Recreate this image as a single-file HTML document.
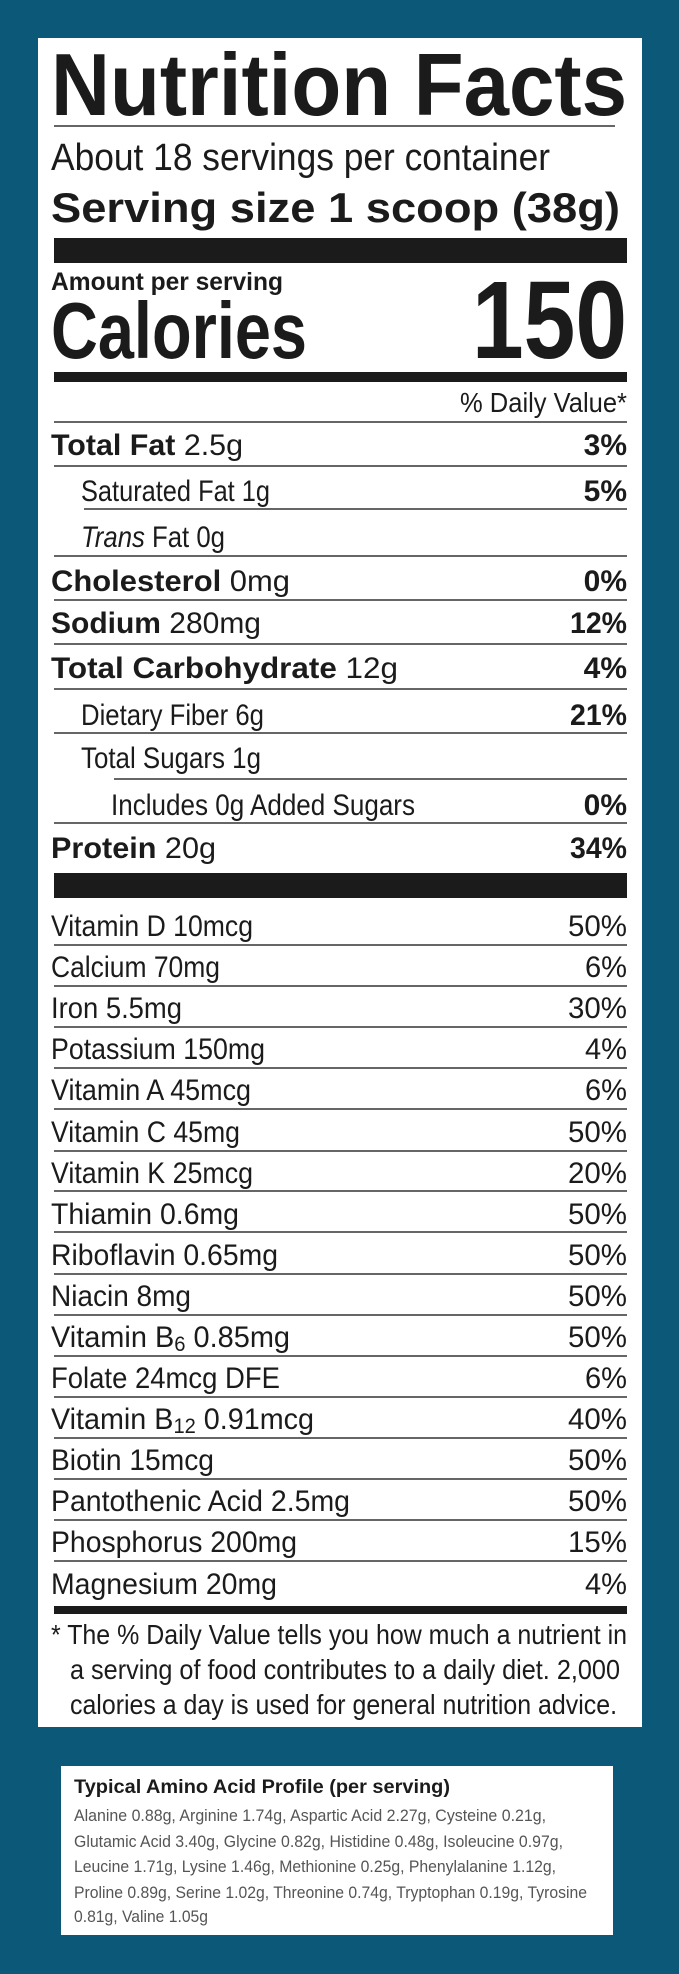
<!DOCTYPE html>
<html><head><meta charset="utf-8"><style>
html,body{margin:0;padding:0;background:#0b5878}
svg{display:block}
text{font-family:"Liberation Sans",Arial,sans-serif;fill:#1b1b1b}
.b{font-weight:bold}
</style></head><body>
<svg width="679" height="1974" viewBox="0 0 679 1974" xmlns="http://www.w3.org/2000/svg">
<rect x="0" y="0" width="679" height="1974" fill="#0b5878"/>
<rect x="38" y="38" width="604" height="1689" fill="#fff"/>
<text x="51" y="115" class="b" font-size="88" textLength="576" lengthAdjust="spacingAndGlyphs">Nutrition Facts</text>
<rect x="54" y="125" width="561" height="2" fill="#666"/>
<text x="51" y="170" font-size="38" textLength="499" lengthAdjust="spacingAndGlyphs">About 18 servings per container</text>
<text x="51" y="222" class="b" font-size="42" textLength="569" lengthAdjust="spacingAndGlyphs">Serving size  1 scoop (38g)</text>
<rect x="54" y="238" width="573" height="25" fill="#1b1b1b"/>
<text x="51" y="290" class="b" font-size="25" textLength="232" lengthAdjust="spacingAndGlyphs">Amount per serving</text>
<text x="51" y="358" class="b" font-size="80" textLength="256" lengthAdjust="spacingAndGlyphs">Calories</text>
<text x="472" y="358" class="b" font-size="110" textLength="155" lengthAdjust="spacingAndGlyphs">150</text>
<rect x="54" y="372" width="573" height="10" fill="#1b1b1b"/>
<text x="460" y="412" font-size="28" textLength="167" lengthAdjust="spacingAndGlyphs">% Daily Value*</text>
<rect x="54" y="421" width="573" height="2" fill="#666"/>

<g>
<text x="51" y="455" font-size="30" textLength="192" lengthAdjust="spacingAndGlyphs"><tspan class="b">Total Fat</tspan> 2.5g</text>
<text x="627" y="455" font-size="30" class="b" text-anchor="end">3%</text>
<rect x="54" y="465" width="573" height="2" fill="#666"/>
<text x="81" y="501" font-size="30" textLength="189" lengthAdjust="spacingAndGlyphs">Saturated Fat 1g</text>
<text x="627" y="501" font-size="30" class="b" text-anchor="end">5%</text>
<rect x="84" y="508" width="543" height="2" fill="#666"/>
<text x="81" y="547" font-size="30" textLength="144" lengthAdjust="spacingAndGlyphs"><tspan font-style="italic">Trans</tspan> Fat 0g</text>
<rect x="54" y="555" width="573" height="2" fill="#666"/>
<text x="51" y="591" font-size="30" textLength="239" lengthAdjust="spacingAndGlyphs"><tspan class="b">Cholesterol</tspan> 0mg</text>
<text x="627" y="591" font-size="30" class="b" text-anchor="end">0%</text>
<rect x="54" y="599" width="573" height="2" fill="#666"/>
<text x="51" y="633" font-size="30" textLength="210" lengthAdjust="spacingAndGlyphs"><tspan class="b">Sodium</tspan> 280mg</text>
<text x="627" y="633" font-size="30" class="b" text-anchor="end" textLength="57" lengthAdjust="spacingAndGlyphs">12%</text>
<rect x="54" y="643" width="573" height="2" fill="#666"/>
<text x="51" y="678" font-size="30" textLength="347" lengthAdjust="spacingAndGlyphs"><tspan class="b">Total Carbohydrate</tspan> 12g</text>
<text x="627" y="678" font-size="30" class="b" text-anchor="end">4%</text>
<rect x="54" y="688" width="573" height="2" fill="#666"/>
<text x="81" y="725" font-size="30" textLength="183" lengthAdjust="spacingAndGlyphs">Dietary Fiber 6g</text>
<text x="627" y="725" font-size="30" class="b" text-anchor="end" textLength="57" lengthAdjust="spacingAndGlyphs">21%</text>
<rect x="54" y="732" width="573" height="2" fill="#666"/>
<text x="81" y="768" font-size="30" textLength="180" lengthAdjust="spacingAndGlyphs">Total Sugars 1g</text>
<rect x="114" y="778" width="513" height="2" fill="#666"/>
<text x="111" y="815" font-size="30" textLength="304" lengthAdjust="spacingAndGlyphs">Includes 0g Added Sugars</text>
<text x="627" y="815" font-size="30" class="b" text-anchor="end">0%</text>
<rect x="54" y="822" width="573" height="2" fill="#666"/>
<text x="51" y="858" font-size="30" textLength="165" lengthAdjust="spacingAndGlyphs"><tspan class="b">Protein</tspan> 20g</text>
<text x="627" y="858" font-size="30" class="b" text-anchor="end" textLength="57" lengthAdjust="spacingAndGlyphs">34%</text>
</g>
<rect x="54" y="873" width="573" height="25" fill="#1b1b1b"/>

<g font-size="30">
<text x="51" y="936" textLength="202" lengthAdjust="spacingAndGlyphs">Vitamin D 10mcg</text>
<text x="627" y="936" text-anchor="end" textLength="59" lengthAdjust="spacingAndGlyphs">50%</text>
<rect x="54" y="944" width="573" height="2" fill="#666"/>
<text x="51" y="977" textLength="169" lengthAdjust="spacingAndGlyphs">Calcium 70mg</text>
<text x="627" y="977" text-anchor="end" textLength="42" lengthAdjust="spacingAndGlyphs">6%</text>
<rect x="54" y="985" width="573" height="2" fill="#666"/>
<text x="51" y="1018" textLength="131" lengthAdjust="spacingAndGlyphs">Iron 5.5mg</text>
<text x="627" y="1018" text-anchor="end" textLength="59" lengthAdjust="spacingAndGlyphs">30%</text>
<rect x="54" y="1026" width="573" height="2" fill="#666"/>
<text x="51" y="1059" textLength="214" lengthAdjust="spacingAndGlyphs">Potassium 150mg</text>
<text x="627" y="1059" text-anchor="end" textLength="42" lengthAdjust="spacingAndGlyphs">4%</text>
<rect x="54" y="1067" width="573" height="2" fill="#666"/>
<text x="51" y="1100" textLength="200" lengthAdjust="spacingAndGlyphs">Vitamin A 45mcg</text>
<text x="627" y="1100" text-anchor="end" textLength="42" lengthAdjust="spacingAndGlyphs">6%</text>
<rect x="54" y="1108" width="573" height="2" fill="#666"/>
<text x="51" y="1142" textLength="189" lengthAdjust="spacingAndGlyphs">Vitamin C 45mg</text>
<text x="627" y="1142" text-anchor="end" textLength="59" lengthAdjust="spacingAndGlyphs">50%</text>
<rect x="54" y="1150" width="573" height="2" fill="#666"/>
<text x="51" y="1183" textLength="202" lengthAdjust="spacingAndGlyphs">Vitamin K 25mcg</text>
<text x="627" y="1183" text-anchor="end" textLength="59" lengthAdjust="spacingAndGlyphs">20%</text>
<rect x="54" y="1190" width="573" height="2" fill="#666"/>
<text x="51" y="1224" textLength="188" lengthAdjust="spacingAndGlyphs">Thiamin 0.6mg</text>
<text x="627" y="1224" text-anchor="end" textLength="59" lengthAdjust="spacingAndGlyphs">50%</text>
<rect x="54" y="1231" width="573" height="2" fill="#666"/>
<text x="51" y="1265" textLength="227" lengthAdjust="spacingAndGlyphs">Riboflavin 0.65mg</text>
<text x="627" y="1265" text-anchor="end" textLength="59" lengthAdjust="spacingAndGlyphs">50%</text>
<rect x="54" y="1273" width="573" height="2" fill="#666"/>
<text x="51" y="1306" textLength="140" lengthAdjust="spacingAndGlyphs">Niacin 8mg</text>
<text x="627" y="1306" text-anchor="end" textLength="59" lengthAdjust="spacingAndGlyphs">50%</text>
<rect x="54" y="1314" width="573" height="2" fill="#666"/>
<text x="51" y="1347" textLength="239" lengthAdjust="spacingAndGlyphs">Vitamin B<tspan font-size="21" dy="4">6</tspan><tspan dy="-4"> 0.85mg</tspan></text>
<text x="627" y="1347" text-anchor="end" textLength="59" lengthAdjust="spacingAndGlyphs">50%</text>
<rect x="54" y="1355" width="573" height="2" fill="#666"/>
<text x="51" y="1388" textLength="229" lengthAdjust="spacingAndGlyphs">Folate 24mcg DFE</text>
<text x="627" y="1388" text-anchor="end" textLength="42" lengthAdjust="spacingAndGlyphs">6%</text>
<rect x="54" y="1396" width="573" height="2" fill="#666"/>
<text x="51" y="1429" textLength="263" lengthAdjust="spacingAndGlyphs">Vitamin B<tspan font-size="21" dy="4">12</tspan><tspan dy="-4"> 0.91mcg</tspan></text>
<text x="627" y="1429" text-anchor="end" textLength="59" lengthAdjust="spacingAndGlyphs">40%</text>
<rect x="54" y="1437" width="573" height="2" fill="#666"/>
<text x="51" y="1470" textLength="163" lengthAdjust="spacingAndGlyphs">Biotin 15mcg</text>
<text x="627" y="1470" text-anchor="end" textLength="59" lengthAdjust="spacingAndGlyphs">50%</text>
<rect x="54" y="1478" width="573" height="2" fill="#666"/>
<text x="51" y="1511" textLength="299" lengthAdjust="spacingAndGlyphs">Pantothenic Acid 2.5mg</text>
<text x="627" y="1511" text-anchor="end" textLength="59" lengthAdjust="spacingAndGlyphs">50%</text>
<rect x="54" y="1519" width="573" height="2" fill="#666"/>
<text x="51" y="1552" textLength="246" lengthAdjust="spacingAndGlyphs">Phosphorus 200mg</text>
<text x="627" y="1552" text-anchor="end" textLength="59" lengthAdjust="spacingAndGlyphs">15%</text>
<rect x="54" y="1560" width="573" height="2" fill="#666"/>
<text x="51" y="1594" textLength="226" lengthAdjust="spacingAndGlyphs">Magnesium 20mg</text>
<text x="627" y="1594" text-anchor="end" textLength="42" lengthAdjust="spacingAndGlyphs">4%</text>
</g>
<rect x="54" y="1606" width="573" height="8" fill="#1b1b1b"/>
<g font-size="28">
<text x="51" y="1644" textLength="576" lengthAdjust="spacingAndGlyphs">* The % Daily Value tells you how much a nutrient in</text>
<text x="70" y="1679" textLength="550" lengthAdjust="spacingAndGlyphs">a serving of food contributes to a daily diet. 2,000</text>
<text x="70" y="1714" textLength="547" lengthAdjust="spacingAndGlyphs">calories a day is used for general nutrition advice.</text>
</g>

<rect x="61" y="1766" width="552" height="169" fill="#fff"/>
<text x="74" y="1793" class="b" font-size="19" textLength="376" lengthAdjust="spacingAndGlyphs">Typical Amino Acid Profile (per serving)</text>
<g font-size="17">
<text x="74" y="1821" textLength="472" lengthAdjust="spacingAndGlyphs" style="fill:#555">Alanine 0.88g, Arginine 1.74g, Aspartic Acid 2.27g, Cysteine 0.21g,</text>
<text x="74" y="1847" textLength="489" lengthAdjust="spacingAndGlyphs" style="fill:#555">Glutamic Acid 3.40g, Glycine 0.82g, Histidine 0.48g, Isoleucine 0.97g,</text>
<text x="74" y="1872" textLength="482" lengthAdjust="spacingAndGlyphs" style="fill:#555">Leucine 1.71g, Lysine 1.46g, Methionine 0.25g, Phenylalanine 1.12g,</text>
<text x="74" y="1898" textLength="513" lengthAdjust="spacingAndGlyphs" style="fill:#555">Proline 0.89g, Serine 1.02g, Threonine 0.74g, Tryptophan 0.19g, Tyrosine</text>
<text x="74" y="1922" textLength="134" lengthAdjust="spacingAndGlyphs" style="fill:#555">0.81g, Valine 1.05g</text>
</g>
</svg>
</body></html>
